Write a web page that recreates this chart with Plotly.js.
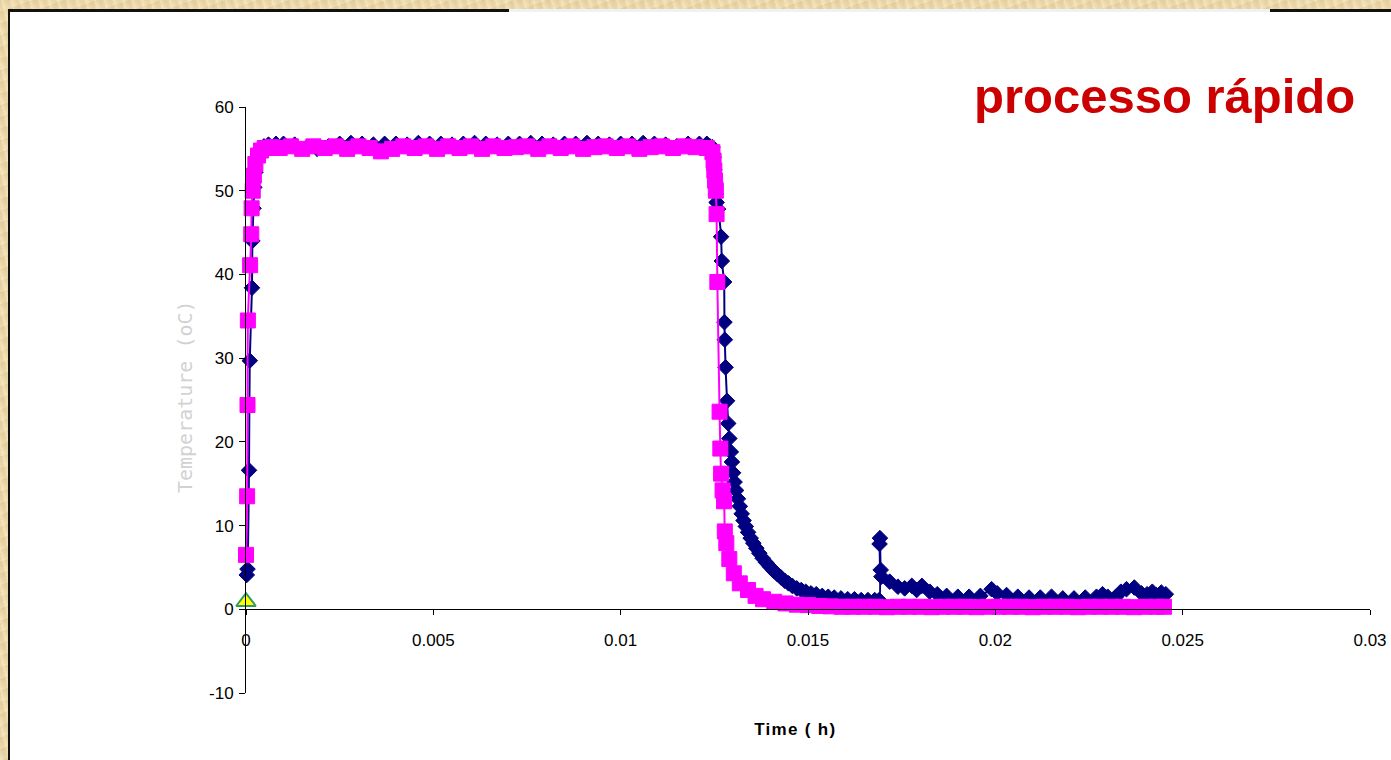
<!DOCTYPE html>
<html>
<head>
<meta charset="utf-8">
<script src="https://cdn.plot.ly/plotly-3.0.1.min.js"></script>
<style>
  html, body { margin:0; padding:0; width:1391px; height:760px; overflow:hidden; }
  body {
    background-color:#ecd8aa;
    background-image:
      repeating-linear-gradient(75deg, rgba(255,250,230,0.35) 0px, rgba(255,250,230,0.0) 3px, rgba(200,170,110,0.18) 6px, rgba(255,250,230,0.0) 9px),
      repeating-linear-gradient(160deg, rgba(190,160,100,0.12) 0px, rgba(255,255,255,0.0) 5px, rgba(250,240,210,0.3) 11px);
  }
  #panel { position:absolute; left:8px; top:9px; right:0; bottom:0; background:#fff;
           border-left:2px solid #111; border-top:3px solid #111; }
  #gap { position:absolute; left:509px; top:9px; width:761px; height:3px; background:#eef2f6; }
  #chart { position:absolute; left:0; top:0; width:1391px; height:760px; }
  .annotation[data-index="1"] text { letter-spacing:1.3px; }
</style>
</head>
<body>
<div id="panel"></div>
<div id="gap"></div>
<div id="chart"></div>
<script>
// ---- data ----
const navyTime = [
  0.00002, 0.00004, 0.00008, 0.0001, 0.00016, 0.00017, 0.0002, 0.00022, 0.00025, 0.0003, 0.00038, 0.00048, 0.0006, 0.0008,
  0.001, 0.0013, 0.0016, 0.0019, 0.0022, 0.0025, 0.0028, 0.0031, 0.0034, 0.0037,
  0.004, 0.0043, 0.0046, 0.0049, 0.0052, 0.0055, 0.0058, 0.0061, 0.0064, 0.0067,
  0.007, 0.0073, 0.0076, 0.0079, 0.0082, 0.0085, 0.0088, 0.0091, 0.0094, 0.0097,
  0.01, 0.0103, 0.0106, 0.0109, 0.0112, 0.0115, 0.0118, 0.0121,
  0.0123, 0.01238, 0.01245, 0.01248, 0.0125, 0.01252, 0.01254, 0.01256, 0.0126,
  0.01268, 0.0127, 0.01276, 0.01277, 0.01278, 0.0128, 0.01284, 0.01287, 0.0129, 0.01294, 0.01297,
  0.013, 0.01304, 0.01308, 0.01313, 0.01318, 0.01323, 0.01328, 0.01334, 0.0134, 0.01347,
  0.01354, 0.01362, 0.0137, 0.01379, 0.01388, 0.01398, 0.01408, 0.01418, 0.01428, 0.01438,
  0.01448, 0.01458, 0.0147, 0.01482, 0.01494, 0.01508, 0.01522, 0.01538, 0.01554, 0.0157,
  0.01588, 0.01606, 0.01624, 0.01642, 0.0166, 0.01678, 0.0169,
  0.01691, 0.01692, 0.01694, 0.01696, 0.01718, 0.0174, 0.01758, 0.01777, 0.0179, 0.01804,
  0.01825, 0.01845, 0.0187, 0.019, 0.0193, 0.0196, 0.0199, 0.02005, 0.0203, 0.0206,
  0.0209, 0.0212, 0.0215, 0.0218, 0.0221, 0.0224, 0.0227, 0.02286, 0.023, 0.0232,
  0.02335, 0.0235, 0.02371, 0.0239, 0.02405, 0.02419, 0.0243, 0.02443, 0.02455
];
const navyTemp = [
  4.1, 4.8, 16.6, 29.7, 38.4, 44.0, 47.9, 50.4, 52.2, 53.8, 54.8, 55.3, 55.5, 55.6,
  55.6, 55.5, 55.1, 55.0, 55.3, 55.6, 55.7, 55.6, 55.5, 55.6,
  55.6, 55.5, 55.7, 55.6, 55.6, 55.5, 55.6, 55.7, 55.6, 55.5,
  55.6, 55.6, 55.7, 55.6, 55.5, 55.6, 55.6, 55.7, 55.6, 55.5,
  55.6, 55.6, 55.7, 55.6, 55.5, 55.3, 55.6, 55.6,
  55.6, 55.3, 55.2, 54.0, 52.5, 51.0, 49.6, 48.6, 47.8,
  44.5, 41.6, 39.1, 34.3, 32.2, 28.9, 24.9, 22.2, 20.4, 18.8, 17.6,
  16.3, 15.2, 14.2, 13.2, 12.3, 11.4, 10.6, 9.9, 9.2, 8.5,
  7.9, 7.3, 6.7, 6.1, 5.6, 5.1, 4.6, 4.2, 3.8, 3.4,
  3.1, 2.8, 2.5, 2.3, 2.1, 1.9, 1.8, 1.6, 1.5, 1.4,
  1.3, 1.2, 1.2, 1.1, 1.1, 1.1, 1.1,
  7.8, 8.5, 4.7, 3.9, 3.3, 2.7, 2.5, 2.8, 2.3, 2.8,
  2.1, 1.8, 1.6, 1.5, 1.5, 1.6, 2.4, 1.9, 1.7, 1.5,
  1.4, 1.4, 1.5, 1.3, 1.3, 1.4, 1.5, 1.8, 1.5, 1.4,
  2.1, 2.4, 2.6, 1.9, 1.8, 2.1, 1.7, 2.0, 1.8
];
const pinkTime = [
  0.0, 0.00003, 0.00004, 0.00005, 0.00011, 0.00014, 0.00015, 0.00018, 0.00021, 0.00025, 0.00032, 0.0004, 0.0005, 0.0007,
  0.0009, 0.0012, 0.0015, 0.0018, 0.0021, 0.0024, 0.0027, 0.003, 0.0033, 0.0036,
  0.0039, 0.0042, 0.0045, 0.0048, 0.0051, 0.0054, 0.0057, 0.006, 0.0063, 0.0066,
  0.0069, 0.0072, 0.0075, 0.0078, 0.0081, 0.0084, 0.0087, 0.009, 0.0093, 0.0096,
  0.0099, 0.0102, 0.0105, 0.0108, 0.0111, 0.0114, 0.0117, 0.012,
  0.0123, 0.01245, 0.01248, 0.0125, 0.01252, 0.01254, 0.01256, 0.01258,
  0.01264, 0.01266, 0.01268, 0.01272, 0.01276, 0.01278, 0.01282, 0.0129, 0.01302, 0.01318,
  0.0134, 0.0136, 0.0138, 0.0141, 0.0144, 0.0147, 0.015,
  0.0153, 0.0156, 0.0159, 0.0162, 0.0165, 0.0168, 0.0171, 0.0174, 0.0177, 0.018,
  0.0183, 0.0186, 0.0189, 0.0192, 0.0195, 0.0198, 0.0201, 0.0204, 0.0207, 0.021,
  0.0213, 0.0216, 0.0219, 0.0222, 0.0225, 0.0228, 0.0231, 0.0234, 0.0237, 0.024,
  0.0243, 0.0245
];
const pinkTemp = [
  6.5, 13.5, 24.4, 34.5, 41.1, 44.8, 47.9, 50.0, 51.8, 53.2, 54.2, 54.8, 55.1, 55.2,
  55.1, 55.3, 55.0, 55.3, 55.1, 55.3, 55.0, 55.3, 55.1, 54.7,
  55.0, 55.3, 55.1, 55.3, 55.0, 55.3, 55.1, 55.3, 55.0, 55.3,
  55.1, 55.2, 55.3, 55.0, 55.3, 55.1, 55.3, 55.0, 55.2, 55.3,
  55.1, 55.3, 55.0, 55.2, 55.3, 55.1, 55.3, 55.2,
  55.1, 54.6, 53.6, 52.4, 51.2, 50.0, 47.2, 39.1,
  23.6, 19.2, 16.2, 14.2, 12.9, 9.3, 7.9, 6.0, 4.3, 3.1,
  2.3, 1.6, 1.2, 0.9, 0.7, 0.55, 0.5,
  0.4, 0.35, 0.3, 0.3, 0.3, 0.3, 0.25, 0.3, 0.3, 0.3,
  0.25, 0.3, 0.3, 0.3, 0.25, 0.3, 0.3, 0.3, 0.3, 0.25,
  0.3, 0.3, 0.3, 0.25, 0.3, 0.3, 0.3, 0.3, 0.25, 0.3,
  0.3, 0.3
];
const startTime = [0];
const startTemp = [0.9];

const xTickVals = [0, 0.005, 0.01, 0.015, 0.02, 0.025, 0.03];
const xTickText = ['0', '0.005', '0.01', '0.015', '0.02', '0.025', '0.03'];
const yTickVals = [-10, 0, 10, 20, 30, 40, 50, 60];
const yTickText = ['-10', '0', '10', '20', '30', '40', '50', '60'];

const chartTitle = 'processo rápido';
const xTitle = 'Time ( h)';
const yTitle = 'Temperature (oC)';

// ---- chart ----
const FONT = 'Liberation Sans, Arial, sans-serif';
const traces = [
  {
    x: navyTime, y: navyTemp, type: 'scatter', mode: 'lines+markers',
    line: { color: '#000080', width: 2, shape: 'spline', smoothing: 0.5 },
    marker: { symbol: 'diamond', size: 12, color: '#000080', line: { color: '#000080', width: 1 } },
    cliponaxis: false, hoverinfo: 'skip'
  },
  {
    x: pinkTime, y: pinkTemp, type: 'scatter', mode: 'lines+markers',
    line: { color: '#FF00FF', width: 2, shape: 'spline', smoothing: 0.5 },
    marker: { symbol: 'square', size: 15, color: '#FF00FF', line: { color: '#FF00FF', width: 1 } },
    cliponaxis: false, hoverinfo: 'skip'
  },
  {
    x: startTime, y: startTemp, type: 'scatter', mode: 'markers',
    marker: { symbol: 'triangle-up', size: 17, color: '#FFFF00', line: { color: '#339966', width: 2 } },
    cliponaxis: false, hoverinfo: 'skip'
  }
];

const layout = {
  width: 1391, height: 760,
  margin: { l: 246, r: 21, t: 107, b: 67, pad: 0 },
  paper_bgcolor: 'rgba(0,0,0,0)',
  plot_bgcolor: 'rgba(0,0,0,0)',
  showlegend: false,
  font: { family: FONT, size: 17, color: '#000' },
  xaxis: {
    range: [0, 0.03], anchor: 'free', position: 10 / 70,
    showline: true, linecolor: '#000', linewidth: 1,
    showgrid: false, zeroline: false,
    ticks: 'outside', ticklen: 5, tickcolor: '#000', tickwidth: 1,
    ticklabelstandoff: 10,
    tickvals: xTickVals, ticktext: xTickText,
    tickfont: { family: FONT, size: 17, color: '#000' }
  },
  yaxis: {
    range: [-10, 60],
    showline: true, linecolor: '#000', linewidth: 1,
    showgrid: false, zeroline: false,
    ticks: 'outside', ticklen: 6, tickcolor: '#000', tickwidth: 1,
    ticklabelstandoff: 2,
    tickvals: yTickVals, ticktext: yTickText,
    tickfont: { family: FONT, size: 17, color: '#000' }
  },
  annotations: [
    {
      text: chartTitle, xref: 'paper', yref: 'paper', x: 0.8176, y: 1.018,
      xanchor: 'center', yanchor: 'middle', showarrow: false,
      font: { family: FONT, size: 49, color: '#CC0000', weight: 'bold' }
    },
    {
      text: xTitle, xref: 'paper', yref: 'paper', x: 0.4893, y: 0, yshift: -36,
      xanchor: 'center', yanchor: 'middle', showarrow: false,
      font: { family: FONT, size: 17, color: '#000', weight: 'bold' }
    },
    {
      text: yTitle, xref: 'paper', yref: 'paper', x: 0, xshift: -61, y: 0.505,
      xanchor: 'center', yanchor: 'middle', showarrow: false, textangle: -90,
      font: { family: 'DejaVu Sans Mono, monospace', size: 20, color: '#d2d2d2' }
    }
  ]
};

Plotly.newPlot('chart', traces, layout, { staticPlot: true, displayModeBar: false });
</script>
</body>
</html>
